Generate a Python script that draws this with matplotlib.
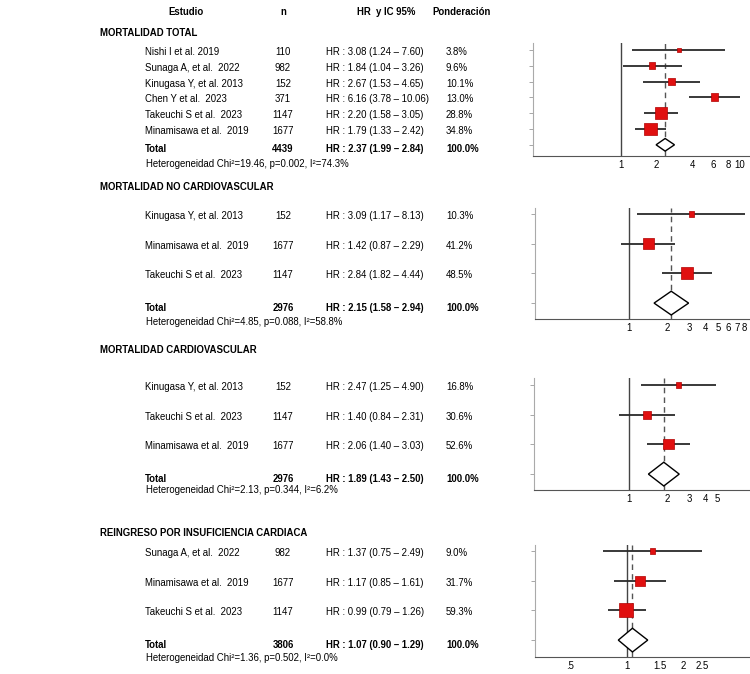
import matplotlib
matplotlib.use("Agg")
import matplotlib.pyplot as plt
from matplotlib.patches import Polygon

plt.rcParams["font.family"] = ["Liberation Sans", "DejaVu Sans"]

# ---- data ----
SECTIONS = ["MORTALIDAD TOTAL", "MORTALIDAD NO CARDIOVASCULAR",
            "MORTALIDAD CARDIOVASCULAR", "REINGRESO POR INSUFICIENCIA CARDIACA"]

STUDIES = [
    ["Nishi I et al. 2019", "Sunaga A, et al.  2022", "Kinugasa Y, et al. 2013",
     "Chen Y et al.  2023", "Takeuchi S et al.  2023", "Minamisawa et al.  2019"],
    ["Kinugasa Y, et al. 2013", "Minamisawa et al.  2019", "Takeuchi S et al.  2023"],
    ["Kinugasa Y, et al. 2013", "Takeuchi S et al.  2023", "Minamisawa et al.  2019"],
    ["Sunaga A, et al.  2022", "Minamisawa et al.  2019", "Takeuchi S et al.  2023"],
]
N = [[110, 982, 152, 371, 1147, 1677], [152, 1677, 1147], [152, 1147, 1677], [982, 1677, 1147]]
HR = [[3.08, 1.84, 2.67, 6.16, 2.20, 1.79], [3.09, 1.42, 2.84], [2.47, 1.40, 2.06], [1.37, 1.17, 0.99]]
LO = [[1.24, 1.04, 1.53, 3.78, 1.58, 1.33], [1.17, 0.87, 1.82], [1.25, 0.84, 1.40], [0.75, 0.85, 0.79]]
HI = [[7.60, 3.26, 4.65, 10.06, 3.05, 2.42], [8.13, 2.29, 4.44], [4.90, 2.31, 3.03], [2.49, 1.61, 1.26]]
WEIGHT = [[3.8, 9.6, 10.1, 13.0, 28.8, 34.8], [10.3, 41.2, 48.5], [16.8, 30.6, 52.6], [9.0, 31.7, 59.3]]

TOTAL_N = [4439, 2976, 2976, 3806]
TOTAL_HR = [2.37, 2.15, 1.89, 1.07]
TOTAL_LO = [1.99, 1.58, 1.43, 0.90]
TOTAL_HI = [2.84, 2.94, 2.50, 1.29]
HETERO = ["Heterogeneidad Chi²=19.46, p=0.002, I²=74.3%",
          "Heterogeneidad Chi²=4.85, p=0.088, I²=58.8%",
          "Heterogeneidad Chi²=2.13, p=0.344, I²=6.2%",
          "Heterogeneidad Chi²=1.36, p=0.502, I²=0.0%"]

XTICKS = [[1, 2, 4, 6, 8, 10], [1, 2, 3, 4, 5, 6, 7, 8], [1, 2, 3, 4, 5], [0.5, 1, 1.5, 2, 2.5]]
XTICKLABELS = [["1", "2", "4", "6", "8", "10"], ["1", "2", "3", "4", "5", "6", "7", "8"],
               ["1", "2", "3", "4", "5"], [".5", "1", "1.5", "2", "2.5"]]

# ---- layout (pixels of a 750x674 canvas) ----
W, H = 750, 674
AX_LEFT = [533, 535, 534, 535]
AX_RIGHT = 749
AX_TOP = [43, 208, 378, 545]
ROW0 = [50, 214, 385, 551]
ROW_STEP = [15.8, 29.7, 29.7, 29.7]
AX_BOTTOM = [156, 319, 490, 657]
XLIM = [(0.184, 12.0), (0.186, 8.7), (0.18, 8.85), (0.325, 4.45)]
TITLE_Y = [33, 187, 350, 533]
HET_Y = [164, 322, 490, 658]
SQ_SCALE = [2.2, 1.75, 1.4, 1.8]   # px of square side per sqrt(weight)

FS = 6.9
RED = "#e01010"
DARK = "#2a2a2a"

fig = plt.figure(figsize=(W / 100, H / 100), dpi=100)


def fy(px):
    return 1 - px / H


# column headers
fig.text(186 / W, fy(12), "Estudio", ha="center", va="center", fontsize=FS, fontweight="bold")
fig.text(283 / W, fy(12), "n", ha="center", va="center", fontsize=FS, fontweight="bold")
fig.text(386 / W, fy(12), "HR  y IC 95%", ha="center", va="center", fontsize=FS, fontweight="bold")
fig.text(462 / W, fy(12), "Ponderación", ha="center", va="center", fontsize=FS, fontweight="bold")

for k in range(4):
    ax = fig.add_axes([AX_LEFT[k] / W, fy(AX_BOTTOM[k]),
                       (AX_RIGHT - AX_LEFT[k]) / W, (AX_BOTTOM[k] - AX_TOP[k]) / H])
    n_st = len(STUDIES[k])
    rows = list(range(n_st))
    tot_row = n_st
    ax.set_xscale("log")
    ax.set_xlim(*XLIM[k])
    ax.set_ylim(tot_row + (AX_BOTTOM[k] - ROW0[k] - tot_row * ROW_STEP[k]) / ROW_STEP[k],
                (AX_TOP[k] - ROW0[k]) / ROW_STEP[k])

    ax.axvline(1, color="#444444", lw=1.0, zorder=1)
    ax.axvline(TOTAL_HR[k], color="#555555", lw=1.0, ls=(0, (4, 3)), zorder=1)

    ax.hlines(rows, LO[k], HI[k], color=DARK, lw=1.3, zorder=2)
    sizes = [(0.72 * SQ_SCALE[k]) ** 2 * w for w in WEIGHT[k]]
    ax.scatter(HR[k], rows, s=sizes, marker="s", color=RED, edgecolors="#b00000",
               linewidths=0.5, zorder=3)

    diamond = Polygon([(TOTAL_LO[k], tot_row), (TOTAL_HR[k], tot_row - 0.4),
                       (TOTAL_HI[k], tot_row), (TOTAL_HR[k], tot_row + 0.4)],
                      closed=True, facecolor="white", edgecolor="black", lw=1.0, zorder=3)
    ax.add_patch(diamond)

    ax.set_xticks(XTICKS[k])
    ax.set_xticklabels(XTICKLABELS[k])
    ax.minorticks_off()
    ax.tick_params(axis="x", length=0, pad=3, labelsize=FS)
    ax.set_yticks(rows + [tot_row])
    ax.set_yticklabels([])
    ax.tick_params(axis="y", length=3, width=0.6, color="#999999")
    ax.spines[["top", "right"]].set_visible(False)
    ax.spines["left"].set_color("#aaaaaa")
    ax.spines["left"].set_linewidth(0.8)
    ax.spines["bottom"].set_color("#555555")
    ax.spines["bottom"].set_linewidth(0.8)
    ax.patch.set_alpha(0)

    # text table on the left
    fig.text(100 / W, fy(TITLE_Y[k]), SECTIONS[k], ha="left", va="center",
             fontsize=FS, fontweight="bold")
    for i in range(n_st + 1):
        if i < n_st:
            name, n, hr, lo, hi, w = STUDIES[k][i], N[k][i], HR[k][i], LO[k][i], HI[k][i], WEIGHT[k][i]
            weight = "normal"
            pct = f"{w:.1f}%"
            y = fy(ROW0[k] + i * ROW_STEP[k] + 2)
        else:
            name, n, hr, lo, hi = "Total", TOTAL_N[k], TOTAL_HR[k], TOTAL_LO[k], TOTAL_HI[k]
            weight = "bold"
            pct = "100.0%"
            y = fy(ROW0[k] + i * ROW_STEP[k] + 4.5)
        fig.text(145 / W, y, name, ha="left", va="center", fontsize=FS, fontweight=weight)
        fig.text(283 / W, y, str(n), ha="center", va="center", fontsize=FS, fontweight=weight)
        fig.text(326 / W, y, f"HR : {hr:.2f} ({lo:.2f} – {hi:.2f})", ha="left", va="center",
                 fontsize=FS, fontweight=weight)
        fig.text(446 / W, y, pct, ha="left", va="center", fontsize=FS, fontweight=weight)
    fig.text(146 / W, fy(HET_Y[k]), HETERO[k], ha="left", va="center", fontsize=FS)

fig.savefig("out.png", dpi=100)
